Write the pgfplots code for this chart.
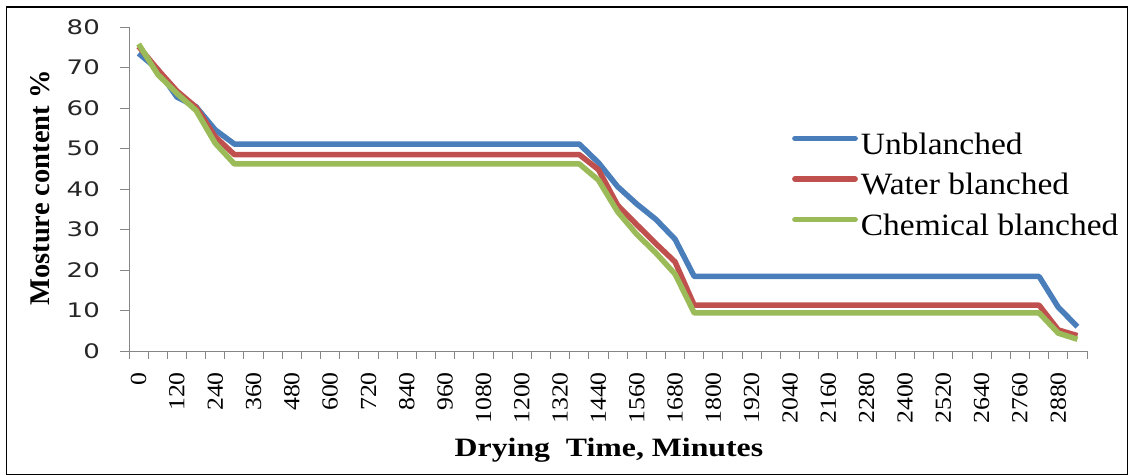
\documentclass[border=0pt]{standalone}
\usepackage{pgfplots}
\pgfplotsset{compat=1.18}
\usepackage{pgfplotstable}
\usepackage{fontspec}
\setmainfont{Liberation Serif}
\newfontfamily\ytickfont[FakeStretch=1.3]{DejaVu Sans}
\newfontfamily\xtickfont[FakeStretch=1.12]{Liberation Serif}
\newfontfamily\labfont[FakeStretch=1.2]{Liberation Serif}
\newfontfamily\legfont[FakeStretch=1.08]{Liberation Serif}

\definecolor{cblue}{HTML}{4A7EBB}
\definecolor{cred}{HTML}{C0504D}
\definecolor{cgreen}{HTML}{9BBB59}
\definecolor{axgray}{HTML}{868686}

% moisture content (%) against drying time (min)
\pgfplotstableread{
t    U     W     C
0    73.5  75.2  75.8
60   69.5  69.5  68.3
120  62.7  64.2  63.6
180  60.3  60.2  59.4
240  54.6  52.9  51.3
300  51.1  48.5  46.2
360  51.1  48.5  46.2
420  51.1  48.5  46.2
480  51.1  48.5  46.2
540  51.1  48.5  46.2
600  51.1  48.5  46.2
660  51.1  48.5  46.2
720  51.1  48.5  46.2
780  51.1  48.5  46.2
840  51.1  48.5  46.2
900  51.1  48.5  46.2
960  51.1  48.5  46.2
1020 51.1  48.5  46.2
1080 51.1  48.5  46.2
1140 51.1  48.5  46.2
1200 51.1  48.5  46.2
1260 51.1  48.5  46.2
1320 51.1  48.5  46.2
1380 51.1  48.5  46.2
1440 46.5  44.8  42.2
1500 40.6  36.0  34.4
1560 36.3  31.2  28.8
1620 32.5  26.5  24.2
1680 27.6  22.0  19.0
1740 18.4  11.3  9.4
1800 18.4  11.3  9.4
1860 18.4  11.3  9.4
1920 18.4  11.3  9.4
1980 18.4  11.3  9.4
2040 18.4  11.3  9.4
2100 18.4  11.3  9.4
2160 18.4  11.3  9.4
2220 18.4  11.3  9.4
2280 18.4  11.3  9.4
2340 18.4  11.3  9.4
2400 18.4  11.3  9.4
2460 18.4  11.3  9.4
2520 18.4  11.3  9.4
2580 18.4  11.3  9.4
2640 18.4  11.3  9.4
2700 18.4  11.3  9.4
2760 18.4  11.3  9.4
2820 18.4  11.3  9.4
2880 10.8  5.2   4.4
2940 6.0   3.8   2.9
}\drying

\begin{document}
\begin{tikzpicture}
\useasboundingbox (0,0) rectangle (1131bp,475bp);
\draw[black, line width=1.2bp] (6.5bp,0.6bp) rectangle (1127.5bp,468bp);
\begin{axis}[
  at={(129bp,124bp)}, anchor=south west,
  scale only axis, width=958bp, height=324bp,
  xmin=-30, xmax=2970, ymin=0, ymax=80,
  axis x line*=bottom, axis y line*=left,
  axis line style={axgray, line width=1bp, -},
  every tick/.style={axgray, line width=1bp},
  tick align=outside,
  xtick={0,120,...,2880}, major x tick style={draw=none},
  minor xtick={-30,30,...,2970}, minor tick length=8bp,
  ytick={0,10,...,80}, major tick length=9bp,
  /pgf/number format/.cd, 1000 sep={}, assume math mode=true, /pgfplots/.cd,
  xticklabel style={font=\xtickfont\fontsize{23bp}{26bp}\selectfont, yshift=-12bp, rotate=90, anchor=east, inner sep=0pt},
  yticklabel style={font=\ytickfont\fontsize{20bp}{24bp}\selectfont, color=black!85, anchor=east, inner sep=0pt, xshift=-20bp},
  xlabel={Drying\ \ Time, Minutes},
  ylabel={Mosture content \%},
  xlabel style={font=\labfont\bfseries\fontsize{26.5bp}{30bp}\selectfont, at={(axis description cs:0.501,-0.3056)}, anchor=center},
  ylabel style={font=\bfseries\fontsize{28.5bp}{32bp}\selectfont, at={(axis description cs:-0.0929,0.503)}, anchor=center},
  legend style={at={(0.692,0.672)}, anchor=north west, draw=none, fill=none,
    font=\legfont\fontsize{31bp}{34bp}\selectfont, inner sep=0pt, row sep=12.5bp, column sep=3bp,
    nodes={inner sep=0pt, text height=21bp, text depth=7bp}},
  legend cell align=left,
  legend image code/.code={\draw[#1, line cap=round] (2.75bp,9bp) -- (63bp,9bp);},
  every axis plot/.append style={line width=5.5bp, line join=round, no markers},
]
\addplot[cblue]  table[x=t, y=U] {\drying};
\addplot[cred]   table[x=t, y=W] {\drying};
\addplot[cgreen] table[x=t, y=C] {\drying};
\legend{Unblanched, Water blanched, Chemical blanched}
\end{axis}
\end{tikzpicture}
\end{document}
